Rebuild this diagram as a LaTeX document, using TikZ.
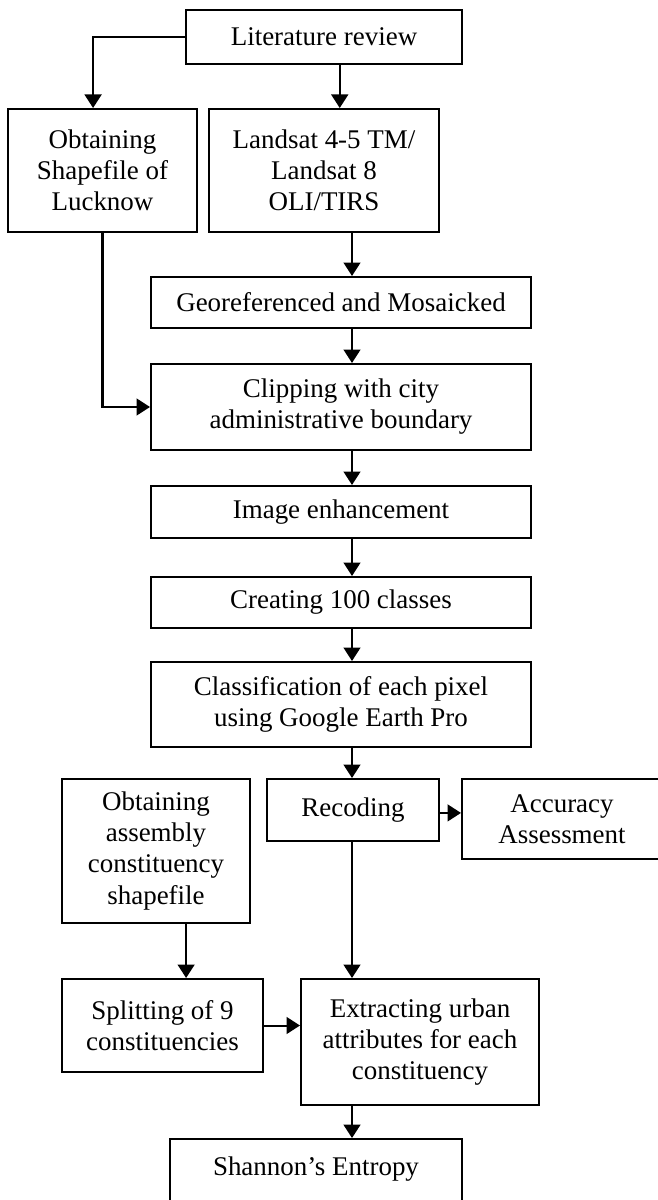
\documentclass[tikz,border=0pt]{standalone}
\usepackage{fontspec}
\setmainfont{Liberation Serif}
\usetikzlibrary{arrows.meta,positioning,calc}
\tikzset{
  >={Triangle[length=6pt,width=7.5pt]},
  box/.style={draw,line width=0.9pt,align=center,inner sep=0pt,
    font=\fontsize{12pt}{13.8pt}\selectfont},
  flow/.style={->,line width=0.9pt},
  line/.style={line width=0.9pt},
}
\begin{document}
\begin{tikzpicture}[x=0.445pt,y=-0.445pt]
  \useasboundingbox (0,0) rectangle (657,1200);
  % main column of arrows
  \coordinate (spine) at (352,0);
  \node[box,minimum width=276*0.445pt,minimum height=54*0.445pt] (lit) at (324,37) {Literature review};
  \node[box,minimum width=189*0.445pt,minimum height=123*0.445pt] (shp) at (102.5,170.5) {Obtaining\\Shapefile of\\Lucknow};
  \node[box,minimum width=230*0.445pt,minimum height=123*0.445pt] (lsat) at (324,170.5) {Landsat 4-5 TM/\\Landsat 8\\OLI/TIRS};
  \node[box,minimum width=380*0.445pt,minimum height=51*0.445pt] (geo) at (341,302.5) {Georeferenced and Mosaicked};
  \node[box,minimum width=380*0.445pt,minimum height=86*0.445pt] (clip) at (341,407) {Clipping with city\\administrative boundary};
  \node[box,minimum width=380*0.445pt,minimum height=52*0.445pt] (enh) at (341,512) {Image enhancement};
  \node[box,minimum width=380*0.445pt,minimum height=51*0.445pt] (cls) at (341,602.5) {Creating 100 classes};
  \node[box,minimum width=380*0.445pt,minimum height=85*0.445pt] (pix) at (341,704.5) {Classification of each pixel\\using Google Earth Pro};
  \node[box,minimum width=172*0.445pt,minimum height=62*0.445pt] (rec) at (353,810) {Recoding};
  \node[box,minimum width=200*0.445pt,minimum height=80*0.445pt] (acc) at (562,819) {Accuracy\\Assessment};
  \node[box,minimum width=188*0.445pt,minimum height=144*0.445pt] (asm) at (156,851) {Obtaining\\assembly\\constituency\\shapefile};
  \node[box,minimum width=201*0.445pt,minimum height=93*0.445pt] (spl) at (162.5,1025.5) {Splitting of 9\\constituencies};
  \node[box,minimum width=238*0.445pt,minimum height=126*0.445pt] (ext) at (420,1042) {Extracting urban\\attributes for each\\constituency};
  \node[box,minimum width=292*0.445pt,anchor=base,text height=16pt,text depth=20pt] (sha) at (316,1175) {Shannon’s Entropy};
  % connectors
  \draw[flow] (lit.west) -| ([xshift=-4.2pt]shp.north);
  \draw[flow] ([xshift=7pt]lit.south) -- ([xshift=7pt]lsat.north);
  \draw[flow] (lsat.south -| spine) -- (geo.north -| spine);
  \draw[flow] (shp.south) |- (clip.west);
  \draw[flow] (geo.south -| spine) -- (clip.north -| spine);
  \draw[flow] (clip.south -| spine) -- (enh.north -| spine);
  \draw[flow] (enh.south -| spine) -- (cls.north -| spine);
  \draw[flow] (cls.south -| spine) -- (pix.north -| spine);
  \draw[flow] (pix.south -| spine) -- (rec.north -| spine);
  \draw[flow] ([yshift=-1.3pt]rec.east) -- ([yshift=-1.3pt]rec.east -| acc.west);
  \draw[flow] ([xshift=13.4pt]asm.south) -- ([xshift=13.4pt]asm.south |- spl.north);
  \draw[flow] (spl.east) -- (spl.east -| ext.west);
  \draw[flow] (rec.south -| spine) -- (ext.north -| spine);
  \draw[flow] (ext.south -| spine) -- (sha.north -| spine);
\end{tikzpicture}
\end{document}
